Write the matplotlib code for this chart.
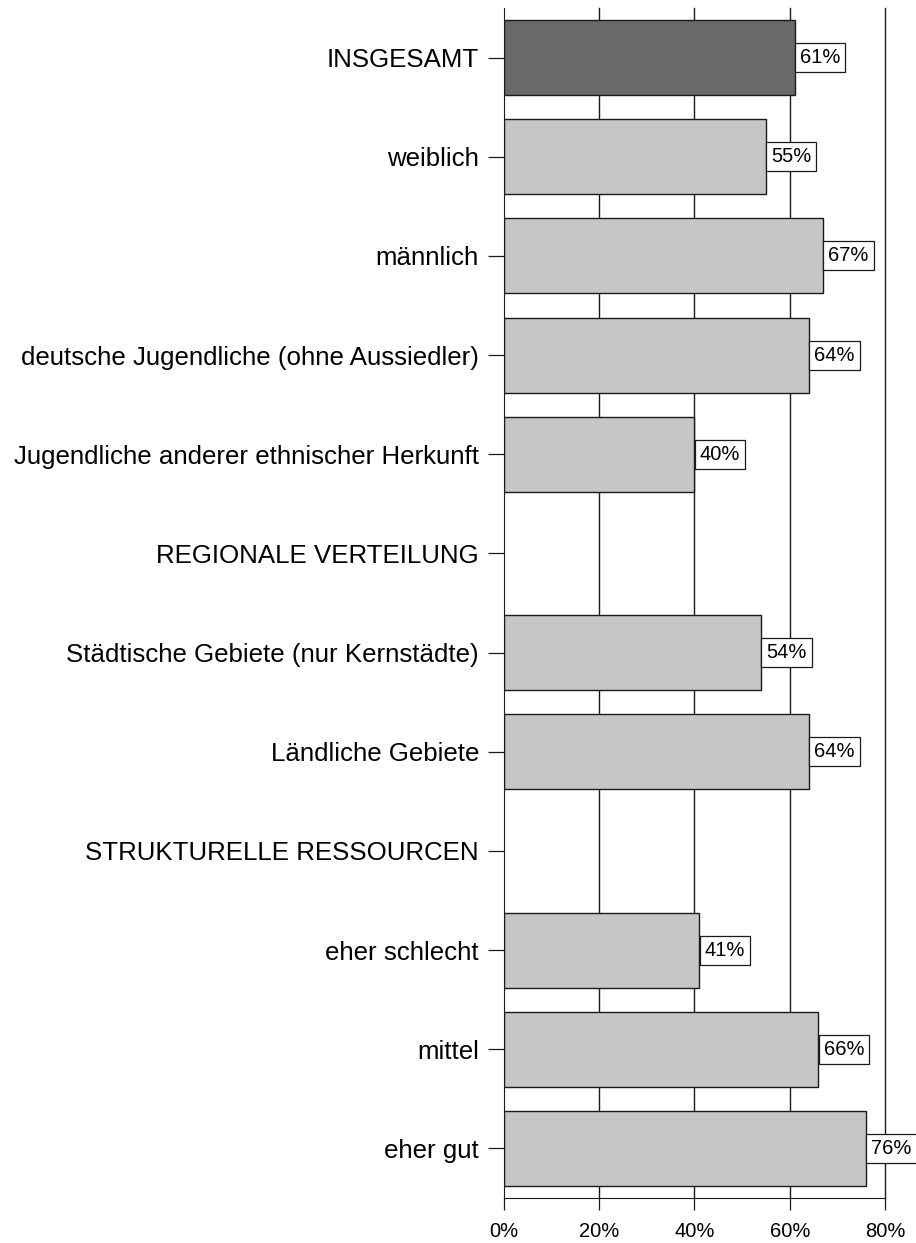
import matplotlib
matplotlib.use("Agg")
import matplotlib.pyplot as plt
import numpy as np

categories = [
    "INSGESAMT",
    "weiblich",
    "männlich",
    "deutsche Jugendliche (ohne Aussiedler)",
    "Jugendliche anderer ethnischer Herkunft",
    "REGIONALE VERTEILUNG",
    "Städtische Gebiete (nur Kernstädte)",
    "Ländliche Gebiete",
    "STRUKTURELLE RESSOURCEN",
    "eher schlecht",
    "mittel",
    "eher gut",
]
values = [61, 55, 67, 64, 40, None, 54, 64, None, 41, 66, 76]
xticks = [0, 20, 40, 60, 80]
xticklabels = ["0%", "20%", "40%", "60%", "80%"]

plt.rcParams['font.family'] = ['Liberation Sans', 'DejaVu Sans']

fig = plt.figure(figsize=(9.16, 12.43), dpi=100)
ax = fig.add_axes([504/916, 1 - 1198/1243, (885-504)/916, (1198-8)/1243])

y = np.arange(len(categories))
for i, v in enumerate(values):
    if v is None:
        continue
    color = "#696969" if i == 0 else "#c6c6c6"
    ax.barh(i, v, height=0.755, color=color, edgecolor="#1a1a1a", linewidth=1.0, zorder=2)
    ax.annotate(f"{v}%", xy=(v, i), xytext=(3.8, 0), textcoords="offset points",
                ha="left", va="center", fontsize=14.5, color="black", zorder=4,
                bbox=dict(boxstyle="square,pad=0.25", facecolor="white", edgecolor="#1a1a1a", linewidth=0.9))

ax.set_xlim(0, 80)
ax.set_ylim(len(categories) - 0.5, -0.5)
ax.set_yticks(y)
ax.set_yticklabels(categories, fontsize=18.6)
ax.set_xticks(xticks)
ax.set_xticklabels(xticklabels, fontsize=14.5)

for xv in xticks[1:]:
    ax.axvline(xv, color="#1a1a1a", linewidth=1.0, zorder=1, clip_on=False)

ax.spines['top'].set_visible(False)
ax.spines['right'].set_visible(False)
ax.spines['left'].set_color("#1a1a1a")
ax.spines['bottom'].set_color("#1a1a1a")
ax.tick_params(axis='y', length=11.5, width=0.9, pad=6.5, color="#1a1a1a")
ax.tick_params(axis='x', length=8.6, width=0.9, pad=9, color="#1a1a1a")

fig.savefig("out.png", dpi=100)
